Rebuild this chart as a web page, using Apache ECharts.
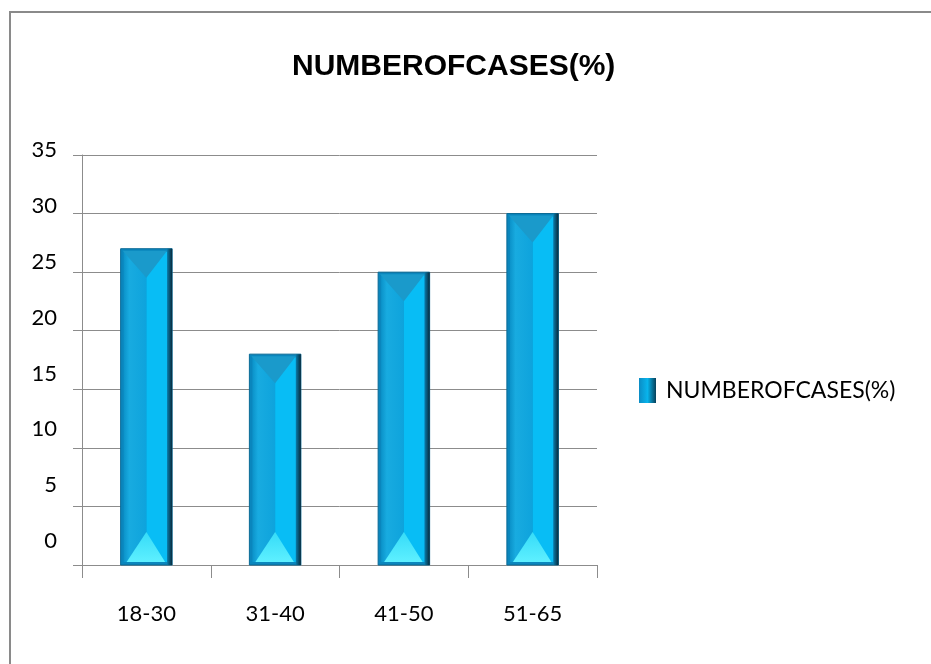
<!DOCTYPE html>
<html>
<head>
<meta charset="utf-8">
<script src="https://cdn.jsdelivr.net/npm/echarts@6/dist/echarts.min.js"></script>
<style>
  html, body { margin: 0; padding: 0; background: #ffffff; }
  #chart { width: 931px; height: 664px; }
</style>
</head>
<body>
<div id="chart"></div>
<script>
// Age groups and share of cases per group
const categories = ['18-30', '31-40', '41-50', '51-65'];
const caseShare = [27, 18, 25, 30];
const seriesName = 'NUMBEROFCASES(%)';
const yMin = 0, yMax = 35, yStep = 5;

const gridColor = '#8c8c8c';
const labelFont = 'Lato, "Open Sans", sans-serif';

// Bevelled column: dark rim, split face, shaded top wedge, glowing base wedge
function renderBevelBar(params, api) {
  const idx = api.value(0);
  const val = api.value(1);
  const topPt = api.coord([idx, val]);
  const basePt = api.coord([idx, 0]);
  const w = api.size([1, 0])[0] * 0.4;
  const cx = topPt[0];
  const l = cx - w / 2, r = cx + w / 2;
  const t = topPt[1], b = basePt[1];
  const h = b - t;
  return {
    type: 'group',
    children: [
      { type: 'rect', shape: { x: l, y: t, width: w, height: h },
        style: { fill: '#0a86bd', stroke: '#0a6a96', lineWidth: 1 } },
      { type: 'rect', shape: { x: l + 3, y: t + 3, width: cx - l - 3, height: h - 6 },
        style: { fill: new echarts.graphic.LinearGradient(0, 0, 1, 0, [
          { offset: 0, color: '#0b92c9' },
          { offset: 0.25, color: '#18abe0' },
          { offset: 1, color: '#0ea3dc' }
        ]) } },
      { type: 'rect', shape: { x: cx, y: t + 3, width: r - 5 - cx, height: h - 6 },
        style: { fill: '#08bdf5' } },
      { type: 'rect', shape: { x: r - 5, y: t, width: 5, height: h },
        style: { fill: new echarts.graphic.LinearGradient(0, 0, 1, 0, [
          { offset: 0, color: '#0a7aa8' },
          { offset: 1, color: '#072a3c' }
        ]) } },
      { type: 'polygon', shape: { points: [[l + 2, t + 2], [r - 5, t + 2], [cx, t + 29]] },
        style: { fill: '#1a9acb' } },
      { type: 'polygon', shape: { points: [[l + 6, b - 3], [r - 7, b - 3], [cx, b - 33]] },
        style: { fill: new echarts.graphic.LinearGradient(0, 0, 0, 1, [
          { offset: 0, color: '#35dbf8' },
          { offset: 1, color: '#5ef0ff' }
        ]) } }
    ]
  };
}

const chart = echarts.init(document.getElementById('chart'), null, { renderer: 'canvas' });

chart.setOption({
  backgroundColor: '#ffffff',
  animation: false,
  title: {
    text: seriesName,
    left: 287,
    top: 47,
    textStyle: {
      fontFamily: '"Liberation Sans", Arial, sans-serif',
      fontWeight: 'bold',
      fontSize: 30,
      color: '#000000'
    }
  },
  legend: {
    left: 634,
    top: 373,
    icon: 'rect',
    itemWidth: 17,
    itemHeight: 25,
    data: [seriesName],
    textStyle: {
      fontFamily: labelFont,
      fontSize: 23,
      color: '#000000',
      padding: [0, 0, 0, 5]
    }
  },
  graphic: [
    {
      type: 'rect',
      shape: { x: 10, y: 12, width: 1000, height: 1000 },
      style: { fill: 'none', stroke: '#8a8a8a', lineWidth: 2 },
      silent: true
    }
  ],
  grid: [
    { left: 82, right: 334, top: 155, bottom: 99 },
    // tick-label track for the value axis
    { left: 82, right: 334, top: 150, bottom: 123 }
  ],
  xAxis: [
    {
      type: 'category',
      gridIndex: 0,
      data: categories,
      boundaryGap: true,
      axisLine: { lineStyle: { color: gridColor, width: 1 } },
      axisTick: { show: true, length: 13, lineStyle: { color: gridColor } },
      axisLabel: {
        margin: 38,
        fontFamily: labelFont,
        fontSize: 22,
        color: '#000000'
      }
    },
    {
      type: 'category',
      gridIndex: 1,
      data: categories,
      show: false
    }
  ],
  yAxis: [
    {
      type: 'value',
      gridIndex: 0,
      min: yMin,
      max: yMax,
      interval: yStep,
      axisLine: { show: true, lineStyle: { color: gridColor, width: 1 } },
      axisTick: { show: true, length: 9, lineStyle: { color: gridColor } },
      axisLabel: { show: false },
      splitLine: { show: true, lineStyle: { color: gridColor, width: 1 } }
    },
    {
      type: 'value',
      gridIndex: 1,
      min: yMin,
      max: yMax,
      interval: yStep,
      axisLine: { show: false },
      axisTick: { show: false },
      splitLine: { show: false },
      axisLabel: {
        margin: 25,
        fontFamily: labelFont,
        fontSize: 22,
        color: '#000000'
      }
    }
  ],
  series: [
    {
      name: seriesName,
      type: 'custom',
      xAxisIndex: 0,
      yAxisIndex: 0,
      renderItem: renderBevelBar,
      encode: { x: 0, y: 1 },
      itemStyle: {
        color: new echarts.graphic.LinearGradient(0, 0, 1, 0, [
          { offset: 0, color: '#0b8cc4' },
          { offset: 0.5, color: '#08b4ec' },
          { offset: 1, color: '#07405a' }
        ])
      },
      data: categories.map((c, i) => [i, caseShare[i]])
    }
  ]
});
</script>
</body>
</html>
